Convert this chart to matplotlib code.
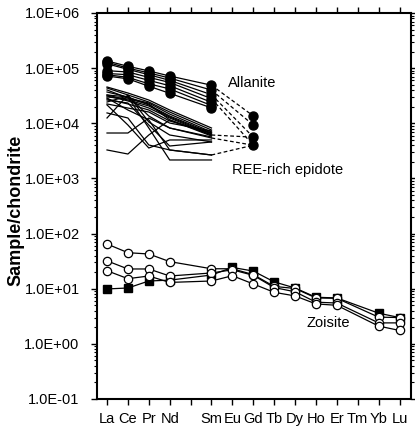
import matplotlib
matplotlib.use("Agg")
import matplotlib.pyplot as plt
from matplotlib.ticker import FixedLocator, FuncFormatter, LogLocator, NullFormatter

plt.rcParams['font.family'] = ['Liberation Sans', 'DejaVu Sans']

# x axis: REE order, Pm left without label
elements = ['La', 'Ce', 'Pr', 'Nd', '', 'Sm', 'Eu', 'Gd', 'Tb', 'Dy', 'Ho', 'Er', 'Tm', 'Yb', 'Lu']
pos = {el: i + 1 for i, el in enumerate(elements) if el}

lree = ['La', 'Ce', 'Pr', 'Nd', 'Sm']
zoi_el = ['La', 'Ce', 'Pr', 'Nd', 'Sm', 'Eu', 'Gd', 'Tb', 'Dy', 'Ho', 'Er', 'Yb', 'Lu']

# allanite (filled circles), La..Sm, some with Gd
allanite = [
    [135000, 108000, 89000, 72000, 49000],
    [128000, 100000, 82000, 66000, 40000],
    [120000, 95000, 76000, 60000, 33000],
    [90000, 85000, 68000, 55000, 28000],
    [80000, 76000, 60000, 48000, 24000],
    [76000, 68000, 52000, 42000, 21000],
    [72000, 64000, 47000, 35000, 19000],
]
allanite_gd = [13600, 9300, 5600, 4000]

# REE-rich epidote (lines only), La..Sm
epidote = [
    [45500, 35400, 26400, 17400, 8210],
    [43600, 32600, 24300, 16000, 7550],
    [40200, 28700, 23300, 14700, 6950],
    [36900, 30000, 21500, 13550, 6660],
    [32600, 26400, 20600, 13000, 6390],
    [31300, 25400, 18900, 12470, 6130],
    [30000, 27600, 22400, 11500, 5880],
    [27600, 22400, 17400, 11000, 6660],
    [24300, 31300, 13550, 8210, 5410],
    [22400, 18900, 16000, 10100, 7240],
    [6660, 6660, 12470, 8210, 5640],
    [3280, 2770, 6130, 11500, 6130],
    [32600, 30000, 8210, 2160, 2160],
    [26400, 23300, 9300, 3870, 4580],
    [15400, 12470, 4040, 3280, 2660],
    [21500, 9300, 3560, 4980, 4980],
    [28700, 17400, 11500, 3280, 2660],
    [12470, 32600, 10550, 6130, 4580],
]
# epidote samples that also have Gd (index, Gd value)
epidote_gd = [(5, 5600), (8, 4000), (14, 4000)]

# zoisite
zoisite_open = [
    [64.7, 45, 42.6, 31, 23, 23, 18, 11, 10.1, 6.8, 6.7, 3.05, 3.0],
    [32, 22.8, 22.8, 17, 19.3, 22, 17.5, 10.5, 8.8, 5.7, 5.5, 2.4, 2.4],
    [21.2, 15.2, 17, 13, 13.8, 17.2, 12.2, 8.6, 7.4, 5.3, 5.0, 2.1, 1.75],
]
zoisite_filled = [9.9, 10.3, 13.8, 14.3, 17.7, 24.3, 20.9, 13.3, 10.3, 7.0, 6.8, 3.6, 3.0]

fig = plt.figure(figsize=(4.15, 4.30), dpi=100)
ax = fig.add_axes([0.2337, 0.0721, 0.7567, 0.8977])

xl = [pos[e] for e in lree]
xz = [pos[e] for e in zoi_el]
dash = (0, (3, 2))

for row in epidote:
    ax.plot(xl, row, color='black', lw=0.9)
for i, gd in epidote_gd:
    ax.plot([pos['Sm'], pos['Gd']], [epidote[i][-1], gd], color='black', lw=0.9, ls=dash)

for i, row in enumerate(allanite):
    ax.plot(xl, row, color='black', lw=0.9, marker='o', ms=6.5, mfc='black', mec='black')
    if i < len(allanite_gd):
        ax.plot([pos['Sm'], pos['Gd']], [row[-1], allanite_gd[i]], color='black', lw=0.9, ls=dash)
ax.plot([pos['Gd']] * len(allanite_gd), allanite_gd, ls='none', marker='o', ms=6.5, color='black')

ax.plot(xz, zoisite_filled, color='black', lw=0.9, marker='s', ms=5.5, mfc='black', mec='black')
for row in zoisite_open:
    ax.plot(xz, row, color='black', lw=0.9, marker='o', ms=6, mfc='white', mec='black', mew=0.9)

ax.text(6.8, 5.4e4, 'Allanite', fontsize=10.5, va='center', ha='left')
ax.text(7.0, 1.42e3, 'REE-rich epidote', fontsize=10.5, va='center', ha='left')
ax.text(10.54, 2.39, 'Zoisite', fontsize=10.5, va='center', ha='left')

ax.set_yscale('log')
ax.set_ylim(1e-1, 1e6)
ax.set_xlim(0.52, 15.55)

ax.xaxis.set_major_locator(FixedLocator(range(1, 16)))
ax.set_xticklabels(elements)
ax.yaxis.set_major_locator(LogLocator(base=10, numticks=20))
ax.yaxis.set_minor_locator(LogLocator(base=10, subs=range(2, 10), numticks=20))
ax.yaxis.set_minor_formatter(NullFormatter())
ax.yaxis.set_major_formatter(FuncFormatter(lambda v, p: f"{v:.1E}"))

ax.tick_params(axis='both', which='major', direction='out', length=4.5, width=1,
               labelsize=10.5, top=True, right=True)
ax.tick_params(axis='y', which='major', pad=8)
ax.tick_params(axis='y', which='minor', direction='out', length=2.5, width=0.8, right=True)
ax.tick_params(axis='x', which='major', pad=5)
for sp in ax.spines.values():
    sp.set_linewidth(1.5)

fig.text(15.5 / 415, 1 - 210 / 430, 'Sample/chondrite', rotation=90, fontsize=13,
         fontweight='bold', ha='center', va='center')

fig.savefig('out.png', dpi=100)
